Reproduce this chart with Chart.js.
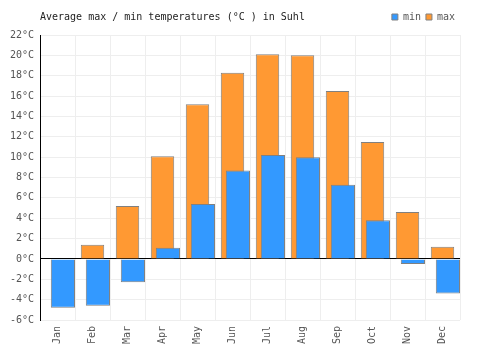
<!DOCTYPE html>
<html>
<head>
<meta charset="utf-8">
<script src="https://cdn.jsdelivr.net/npm/chart.js@4/dist/chart.umd.min.js"></script>
<style>
  body { margin: 0; background: #fff; }
  #box { width: 500px; height: 350px; }
</style>
</head>
<body>
<div id="box"><canvas id="chart" width="500" height="350"></canvas></div>
<script>
const months = ['Jan', 'Feb', 'Mar', 'Apr', 'May', 'Jun', 'Jul', 'Aug', 'Sep', 'Oct', 'Nov', 'Dec'];
const minTemps = [-4.8, -4.6, -2.3, 1.1, 5.4, 8.7, 10.2, 10.0, 7.3, 3.8, -0.5, -3.4];
const maxTemps = [0, 1.4, 5.2, 10.1, 15.2, 18.3, 20.1, 20.0, 16.5, 11.5, 4.6, 1.2];
const yMin = -6;
const yMax = 22;
const yStep = 2;

Chart.defaults.font.family = "'DejaVu Sans Mono', monospace";
Chart.defaults.font.size = 10;
Chart.defaults.color = '#555';

// max sits centred on x, min is grouped on its own axis x2 so it lands in the right half
var chart = new Chart('chart', {
  type: 'bar',
  data: {
    labels: months,
    datasets: [{
      label: 'max',
      data: maxTemps,
      xAxisID: 'x',
      order: 1,
      grouped: false,
      backgroundColor: '#ff9933',
      borderColor: '#808080',
      borderWidth: 1,
      categoryPercentage: 1,
      barPercentage: 0.67
    }, {
      label: 'min',
      data: minTemps,
      xAxisID: 'x2',
      order: 0,
      backgroundColor: '#3399ff',
      borderColor: '#808080',
      borderWidth: 1,
      categoryPercentage: 0.617,
      barPercentage: 2.24
    }]
  },
  options: {
    responsive: false,
    animation: false,
    layout: { padding: { top: 7, left: 0, right: 40, bottom: 0 } },
    plugins: {
      title: {
        display: true,
        text: 'Average max / min temperatures (°C ) in Suhl',
        align: 'start',
        fullSize: false,
        color: '#222',
        font: { size: 10, weight: 'normal' },
        padding: { top: 4, bottom: -16 }
      },
      legend: {
        display: true,
        position: 'top',
        align: 'end',
        labels: {
          boxWidth: 6,
          boxHeight: 6,
          padding: 5,
          color: '#555'
        }
      },
      tooltip: { enabled: false }
    },
    scales: {
      x: {
        position: 'bottom',
        grid: { color: '#eeeeee', drawTicks: false, offset: true },
        border: { display: false },
        ticks: { minRotation: 90, maxRotation: 90, padding: 6, color: '#555' },
        afterFit: scale => { scale.height = 30; }
      },
      x2: {
        position: 'top',
        grid: { display: false, drawTicks: false },
        border: { display: false },
        ticks: { display: false },
        afterFit: scale => { scale.height = 3; }
      },
      y: {
        min: yMin,
        max: yMax,
        grid: {
          drawTicks: false,
          color: ctx => ctx.tick && ctx.tick.value === 0 ? '#000' : '#eeeeee'
        },
        border: { display: true, color: '#000', width: 1 },
        ticks: {
          stepSize: yStep,
          padding: 6,
          color: '#555',
          callback: v => v + '°C'
        },
        afterFit: scale => { scale.width = 40; }
      }
    }
  }
});
</script>
</body>
</html>
